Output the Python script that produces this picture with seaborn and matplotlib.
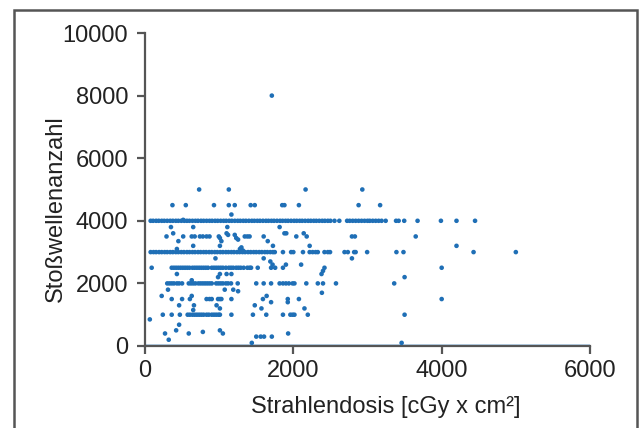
import pandas as pd
import matplotlib
matplotlib.use("Agg")
import matplotlib.pyplot as plt
import seaborn as sns
from matplotlib.patches import Rectangle

# rows of points that sit on round shock-wave counts
x_4000 = [76, 110, 150, 185, 225, 260, 300, 340, 375, 415, 450, 490, 530, 565, 600, 640,
          680, 715, 755, 790, 830, 870, 905, 945, 980, 1020, 1060, 1095, 1135, 1170, 1210,
          1250, 1285, 1325, 1360, 1400, 1440, 1475, 1515, 1550, 1590, 1630, 1665, 1705,
          1740, 1780, 1820, 1855, 1895, 1930, 1970, 2010, 2045, 2085, 2120, 2160, 2200,
          2235, 2275, 2310, 2350, 2390, 2425, 2465, 2500, 2555, 2620, 2725, 2760, 2800,
          2840, 2880, 2920, 2960, 3000, 3030, 3070, 3110, 3150, 3190, 3245, 3385, 3420,
          3495, 3675, 3990, 4200, 4450]
x_3000 = [76, 115, 150, 190, 225, 265, 300, 340, 375, 415, 450, 490, 525, 565, 600, 640,
          675, 715, 750, 790, 825, 865, 900, 940, 975, 1015, 1050, 1090, 1125, 1165, 1200,
          1240, 1275, 1315, 1350, 1390, 1425, 1465, 1500, 1540, 1575, 1615, 1650, 1690,
          1725, 1750, 1860, 1970, 2000, 2130, 2220, 2260, 2300, 2330, 2420, 2465, 2495,
          2690, 2735, 2820, 2840, 2995, 3390, 3485, 4430, 5000]
x_2500 = [90, 360, 390, 420, 450, 480, 510, 540, 570, 600, 640, 670, 700, 730, 760, 790,
          820, 850, 900, 930, 960, 990, 1020, 1050, 1090, 1130, 1160, 1190, 1230, 1260,
          1290, 1330, 1380, 1410, 1430, 1520, 1700, 4000]
x_2000 = [300, 330, 360, 390, 430, 460, 500, 590, 620, 650, 680, 720, 750, 780, 810, 840,
          870, 900, 960, 990, 1020, 1050, 1090, 1120, 1160, 1250, 1500, 1600, 1700, 1815,
          1860, 1900, 1940, 1990, 2015, 2175, 2330, 2400, 2575, 3360]
x_1500 = [360, 500, 605, 830, 870, 900, 985, 1010, 1030, 1165, 1590, 1925, 2075, 4000]
x_1000 = [240, 360, 470, 575, 605, 640, 670, 700, 730, 760, 790, 830, 860, 900, 930, 960,
          990, 1010, 1165, 1455, 1635, 1860, 1960, 1990, 2015, 2195, 3500]

# remaining scattered points
x_misc = [730, 1130, 2165, 2930,
          370, 550, 930, 1130, 1210, 1425, 1480, 1850, 1880, 2075, 2880, 3170,
          1165, 515, 350, 650, 1110, 1815,
          380, 1100, 1120, 1880, 1905, 2140,
          290, 515, 630, 670, 740, 780, 830, 870, 995, 1010, 1030, 1210, 1230, 1255,
          1345, 1380, 1410, 1600, 1655, 2040, 2180, 2790, 2830, 3650,
          450, 650, 1010, 1725, 2220, 4200,
          430, 1280, 1300, 1320,
          950, 1600, 2790,
          1690, 1720, 1755, 1860, 1900, 2105, 2380, 2400, 2420,
          430, 1010, 1100, 1165, 985, 3500, 630,
          310, 1075, 1190, 1255, 2385, 1640, 225, 630, 1700, 1925,
          460, 660, 965, 1010, 1480, 1570, 650, 2150,
          65, 460, 270, 420, 590, 780, 320, 1010, 1050, 1500, 1560, 1605, 1710, 1930,
          1440, 3460, 1710]
y_misc = [5000, 5000, 5000, 5000,
          4500, 4500, 4500, 4500, 4500, 4500, 4500, 4500, 4500, 4500, 4500, 4500,
          4200, 4030, 3800, 3800, 3800, 3800,
          3600, 3600, 3550, 3600, 3600, 3600,
          3500, 3500, 3500, 3500, 3500, 3500, 3500, 3500, 3500, 3450, 3350, 3550, 3450, 3400,
          3500, 3500, 3500, 3500, 3350, 3500, 3500, 3500, 3500, 3500,
          3350, 3200, 3200, 3200, 3200, 3200,
          3100, 3100, 3150, 3050,
          2800, 2800, 2800,
          2700, 2600, 2500, 2500, 2600, 2600, 2300, 2400, 2500,
          2300, 2300, 2300, 2300, 2200, 2200, 2100,
          1800, 1800, 1800, 1750, 1700, 1600, 1600, 1600, 1400, 1400,
          1300, 1300, 1300, 1200, 1300, 1200, 1150, 1200,
          850, 680, 400, 500, 400, 450, 200, 500, 400, 300, 300, 300, 300, 400,
          100, 100, 8000]

x_ticks = [0, 2000, 4000, 6000]
y_ticks = [0, 2000, 4000, 6000, 8000, 10000]

rows = [(x_4000, 4000), (x_3000, 3000), (x_2500, 2500), (x_2000, 2000),
        (x_1500, 1500), (x_1000, 1000)]
xs, ys = [], []
for xr, yv in rows:
    xs += xr
    ys += [yv] * len(xr)
xs += x_misc
ys += y_misc
df = pd.DataFrame({"dose": xs, "shocks": ys})

sns.set_style("white")
plt.rcParams["font.family"] = ["Liberation Sans", "DejaVu Sans"]

fig = plt.figure(figsize=(6.39, 4.28), dpi=100)
ax = fig.add_axes([145 / 639, 1 - 346 / 428, 445 / 639, 313 / 428])

ax.axhline(0, color="#b3cfe8", lw=3.5, zorder=1)
sns.scatterplot(data=df, x="dose", y="shocks", ax=ax, s=11, color="#1f6fb6",
                edgecolor="none", linewidth=0, zorder=3)

ax.set_xlim(0, 6000)
ax.set_ylim(0, 10000)
ax.set_xticks(x_ticks)
ax.set_yticks(y_ticks)
for s in ["top", "right"]:
    ax.spines[s].set_visible(False)
for s in ["left", "bottom"]:
    ax.spines[s].set_color("#555555")
    ax.spines[s].set_linewidth(1.6)
    ax.spines[s].set_zorder(2.5)
ax.tick_params(axis="both", direction="out", length=6, width=1.6, color="#555555",
               labelsize=17, labelcolor="#222222", bottom=True, left=True)
ax.tick_params(axis="y", pad=6)
ax.tick_params(axis="x", pad=4)

ax.set_xlabel("Strahlendosis [cGy x cm²]", fontsize=17, color="#222222")
ax.set_ylabel("Stoßwellenanzahl", fontsize=17, color="#222222")
ax.xaxis.set_label_coords(0.54, -0.16)
ax.yaxis.set_label_coords(-0.175, 0.44)

fig.patches.append(Rectangle((14 / 639, -0.1), 623 / 639, 1 + 0.1 - 10 / 428,
                             transform=fig.transFigure, fill=False,
                             edgecolor="#555555", lw=1.8))

fig.savefig("out.png", dpi=100)
